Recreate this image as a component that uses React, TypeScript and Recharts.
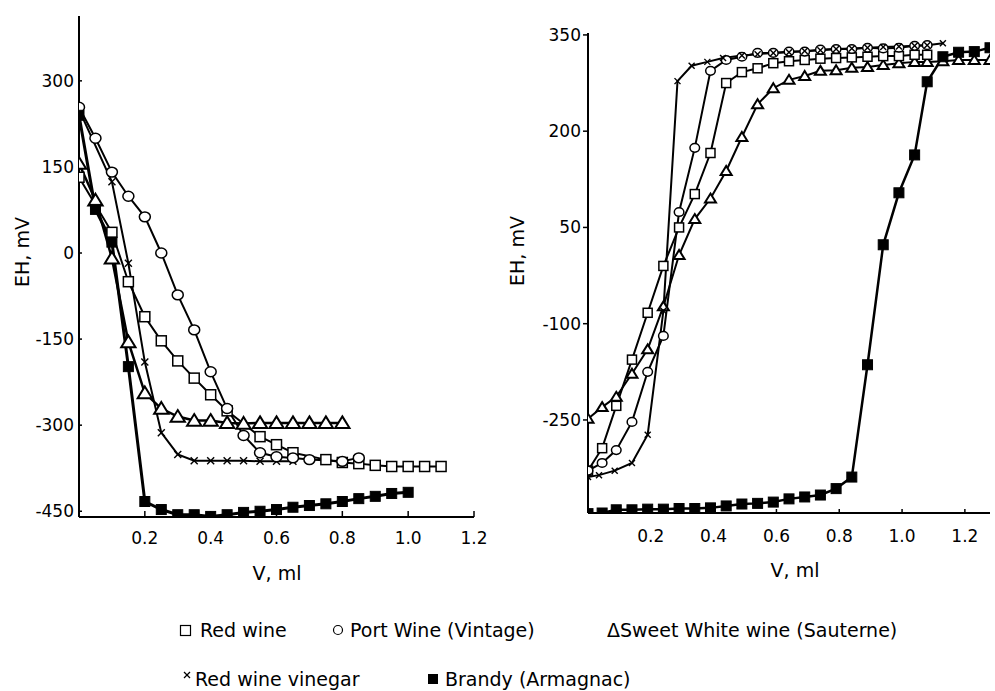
import React from "react";
import { LineChart, Line, XAxis, YAxis } from "recharts";

const FONT = "DejaVu Sans";

// left panel: EH falls during titration
const redWineLeftV = [0, 0.1, 0.15, 0.2, 0.25, 0.3, 0.35, 0.4, 0.45, 0.55, 0.6, 0.65, 0.75, 0.8, 0.85, 0.9, 0.95, 1.0, 1.05, 1.1];
const redWineLeftE = [132, 36, -50, -111, -153, -188, -218, -247, -275, -320, -334, -348, -360, -365, -367, -370, -372, -372, -372, -372];

const portLeftV = [0, 0.05, 0.1, 0.15, 0.2, 0.25, 0.3, 0.35, 0.4, 0.45, 0.5, 0.55, 0.6, 0.65, 0.7, 0.8, 0.85];
const portLeftE = [254, 200, 141, 99, 63, 0, -73, -134, -207, -271, -318, -348, -355, -357, -360, -363, -357];

const sweetLeftV = [0, 0.05, 0.1, 0.15, 0.2, 0.25, 0.3, 0.35, 0.4, 0.45, 0.5, 0.55, 0.6, 0.65, 0.7, 0.75, 0.8];
const sweetLeftE = [156, 92, -9, -155, -244, -271, -285, -292, -292, -296, -297, -296, -296, -296, -296, -296, -296];

const vinegarLeftV = [0, 0.1, 0.15, 0.2, 0.25, 0.3, 0.35, 0.4, 0.45, 0.5, 0.55, 0.6, 0.65];
const vinegarLeftE = [250, 124, -18, -190, -313, -351, -362, -362, -362, -362, -363, -363, -363];

const brandyLeftV = [0, 0.05, 0.1, 0.15, 0.2, 0.25, 0.3, 0.35, 0.4, 0.45, 0.5, 0.55, 0.6, 0.65, 0.7, 0.75, 0.8, 0.85, 0.9, 0.95, 1.0];
const brandyLeftE = [240, 76, 19, -198, -433, -447, -456, -456, -459, -456, -452, -450, -447, -443, -440, -437, -433, -428, -424, -419, -417];

// right panel: EH rises
const rightV = [0, 0.045, 0.09, 0.14, 0.19, 0.24, 0.29, 0.34, 0.39, 0.44, 0.49, 0.54, 0.59, 0.64, 0.69, 0.74, 0.79, 0.84, 0.89, 0.94, 0.99, 1.04, 1.08, 1.13, 1.18, 1.23, 1.28];

const redWineRightE = [-329, -294, -228, -156, -83, -10, 50, 102, 166, 275, 292, 298, 306, 309, 311, 313, 314, 315, 316, 317, 317, 319, 319];
const portRightE = [-329, -317, -297, -253, -175, -119, 74, 174, 294, 311, 316, 322, 322, 324, 324, 327, 328, 328, 330, 329, 330, 333, 334];
const sweetRightE = [-248, -230, -214, -178, -140, -73, 7, 63, 95, 138, 191, 242, 267, 280, 286, 294, 295, 299, 300, 303, 306, 308, 308, 309, 311, 311, 311];
const vinegarRightV = [0, 0.035, 0.085, 0.14, 0.19, 0.24, 0.285, 0.33, 0.38, 0.43, 0.49, 0.54, 0.59, 0.64, 0.69, 0.74, 0.79, 0.84, 0.89, 0.94, 0.99, 1.04, 1.08, 1.13];
const vinegarRightE = [-339, -336, -329, -317, -273, -80, 278, 302, 308, 314, 318, 320, 322, 323, 325, 326, 328, 329, 330, 331, 332, 333, 334, 337];
const brandyRightE = [-396, -395, -390, -390, -389, -389, -388, -388, -387, -384, -381, -380, -378, -373, -370, -367, -357, -339, -164, 23, 104, 163, 277, 316, 323, 324, 330];

const xTicks = [0.2, 0.4, 0.6, 0.8, 1.0, 1.2];
const leftYTicks = [-450, -300, -150, 0, 150, 300];
const rightYTicks = [-250, -100, 50, 200, 350];

const pairs = (vs: number[], es: number[]) => es.map((e, i) => ({ v: vs[i], e }));

const openSquare = (s: number) => (p: any) =>
  p.cx == null ? <g key={`n-${p.index}`} /> : (
    <rect key={`sq-${p.index}`} x={p.cx - s / 2} y={p.cy - s / 2} width={s} height={s} fill="#fff" stroke="#000" strokeWidth={1.5} />
  );
const filledSquare = (s: number) => (p: any) =>
  p.cx == null ? <g key={`n-${p.index}`} /> : (
    <rect key={`fs-${p.index}`} x={p.cx - s / 2} y={p.cy - s / 2} width={s} height={s} fill="#000" stroke="#000" />
  );
const openCircle = (r: number) => (p: any) =>
  p.cx == null ? <g key={`n-${p.index}`} /> : (
    <ellipse key={`c-${p.index}`} cx={p.cx} cy={p.cy} rx={r} ry={r * 0.9} fill="#fff" stroke="#000" strokeWidth={1.5} />
  );
const openTriangle = (s: number) => (p: any) =>
  p.cx == null ? <g key={`n-${p.index}`} /> : (
    <polygon
      key={`t-${p.index}`}
      points={`${p.cx},${p.cy - s * 0.5} ${p.cx + s * 0.55},${p.cy + s * 0.4} ${p.cx - s * 0.55},${p.cy + s * 0.4}`}
      fill="#fff"
      stroke="#000"
      strokeWidth={2}
    />
  );
const cross = (s: number) => (p: any) =>
  p.cx == null ? <g key={`n-${p.index}`} /> : (
    <g key={`x-${p.index}`} stroke="#000" strokeWidth={1.4}>
      <line x1={p.cx - s / 2} y1={p.cy - s / 2} x2={p.cx + s / 2} y2={p.cy + s / 2} />
      <line x1={p.cx - s / 2} y1={p.cy + s / 2} x2={p.cx + s / 2} y2={p.cy - s / 2} />
    </g>
  );

const tickStyle = { fill: "#000", fontSize: 17, fontFamily: FONT };
const axisStroke = { stroke: "#000", strokeWidth: 2 };
const tickStroke = { stroke: "#000", strokeWidth: 1.5 };

const LeftPanel = () => (
  <LineChart width={490} height={560} margin={{ top: 16, right: 16, left: 0, bottom: 0 }}>
    <XAxis
      type="number"
      dataKey="v"
      domain={[0, 1.2]}
      ticks={xTicks}
      tickFormatter={(t) => t.toFixed(1)}
      height={43}
      allowDataOverflow
      axisLine={axisStroke}
      tickLine={tickStroke}
      tickSize={-6}
      tickMargin={21}
      tick={tickStyle}
    />
    <YAxis
      type="number"
      domain={[-460, 413]}
      ticks={leftYTicks}
      width={79}
      allowDataOverflow
      axisLine={axisStroke}
      tickLine={tickStroke}
      tickSize={-3}
      tickMargin={8}
      tick={tickStyle}
    />
    <Line data={pairs(sweetLeftV, sweetLeftE)} dataKey="e" stroke="#000" strokeWidth={2.5} dot={openTriangle(13)} isAnimationActive={false} />
    <Line data={pairs(vinegarLeftV, vinegarLeftE)} dataKey="e" stroke="#000" strokeWidth={2} dot={cross(7)} isAnimationActive={false} />
    <Line data={pairs(redWineLeftV, redWineLeftE)} dataKey="e" stroke="#000" strokeWidth={2} dot={openSquare(10)} isAnimationActive={false} />
    <Line data={pairs(portLeftV, portLeftE)} dataKey="e" stroke="#000" strokeWidth={2} dot={openCircle(5.5)} isAnimationActive={false} />
    <Line data={pairs(brandyLeftV, brandyLeftE)} dataKey="e" stroke="#000" strokeWidth={3} dot={filledSquare(10)} isAnimationActive={false} />
  </LineChart>
);

const RightPanel = () => (
  <LineChart width={495} height={560} margin={{ top: 33, right: 5, left: 0, bottom: 0 }}>
    <XAxis
      type="number"
      dataKey="v"
      domain={[0, 1.28]}
      ticks={xTicks}
      tickFormatter={(t) => t.toFixed(1)}
      height={47}
      allowDataOverflow
      axisLine={axisStroke}
      tickLine={tickStroke}
      tickSize={-4}
      tickMargin={21}
      tick={tickStyle}
    />
    <YAxis
      type="number"
      domain={[-395, 353]}
      ticks={rightYTicks}
      width={88}
      allowDataOverflow
      axisLine={axisStroke}
      tickLine={tickStroke}
      tickSize={5}
      tickMargin={2}
      tick={tickStyle}
    />
    <Line data={pairs(rightV, sweetRightE)} dataKey="e" stroke="#000" strokeWidth={2} dot={openTriangle(10)} isAnimationActive={false} />
    <Line data={pairs(rightV, redWineRightE)} dataKey="e" stroke="#000" strokeWidth={2} dot={openSquare(9)} isAnimationActive={false} />
    <Line data={pairs(rightV, portRightE)} dataKey="e" stroke="#000" strokeWidth={2} dot={openCircle(4.8)} isAnimationActive={false} />
    <Line data={pairs(vinegarRightV, vinegarRightE)} dataKey="e" stroke="#000" strokeWidth={2} dot={cross(6)} isAnimationActive={false} />
    <Line data={pairs(rightV, brandyRightE)} dataKey="e" stroke="#000" strokeWidth={2.5} dot={filledSquare(10)} isAnimationActive={false} />
  </LineChart>
);

const Overlay = () => (
  <svg width={995} height={691} style={{ position: "absolute", left: 0, top: 0, pointerEvents: "none" }} fontFamily={FONT} fill="#000">
    <text x={22} y={252} fontSize={19} textAnchor="middle" dominantBaseline="central" transform="rotate(-90 22 252)">EH, mV</text>
    <text x={517} y={251} fontSize={19} textAnchor="middle" dominantBaseline="central" transform="rotate(-90 517 251)">EH, mV</text>
    <text x={277} y={580} fontSize={19} textAnchor="middle">V, ml</text>
    <text x={795} y={577} fontSize={19} textAnchor="middle">V, ml</text>

    {/* legend */}
    <rect x={180.5} y={625.5} width={10} height={10} fill="#fff" stroke="#000" strokeWidth={1.2} />
    <text x={200} y={637} fontSize={19}>Red wine</text>
    <circle cx={338} cy={630} r={4.5} fill="#fff" stroke="#000" strokeWidth={1.2} />
    <text x={350} y={637} fontSize={19}>Port Wine (Vintage)</text>
    <text x={607} y={637} fontSize={19}>ΔSweet White wine (Sauterne)</text>
    <g stroke="#000" strokeWidth={1.3}>
      <line x1={184} y1={672} x2={190} y2={678} />
      <line x1={184} y1={678} x2={190} y2={672} />
    </g>
    <text x={195} y={686} fontSize={19}>Red wine vinegar</text>
    <rect x={428} y={674} width={10} height={10} fill="#000" />
    <text x={445} y={686} fontSize={19}>Brandy (Armagnac)</text>
  </svg>
);

export default function App() {
  return (
    <div style={{ position: "absolute", left: 0, top: 0, width: 995, height: 691, background: "#fff" }}>
      <div style={{ position: "absolute", left: 0, top: 0 }}>
        <LeftPanel />
      </div>
      <div style={{ position: "absolute", left: 500, top: 0 }}>
        <RightPanel />
      </div>
      <Overlay />
    </div>
  );
}
